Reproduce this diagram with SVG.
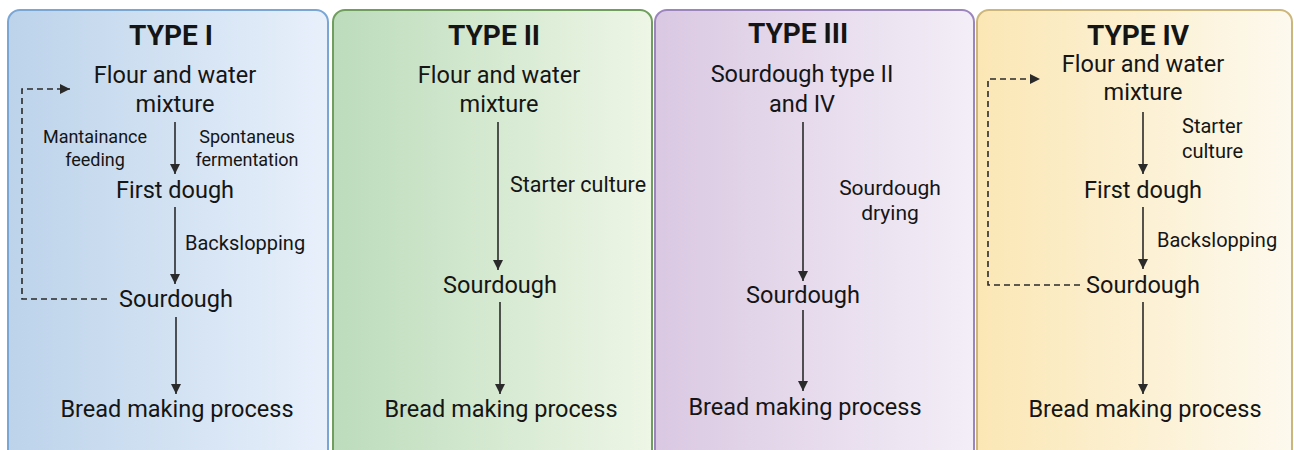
<svg xmlns="http://www.w3.org/2000/svg" width="1294" height="450" viewBox="0 0 1294 450">
<defs>
<linearGradient id="g1" x1="0" y1="0" x2="1" y2="0"><stop offset="0" stop-color="#bcd3ea"/><stop offset="1" stop-color="#e8f0fb"/></linearGradient>
<linearGradient id="g2" x1="0" y1="0" x2="1" y2="0"><stop offset="0" stop-color="#bcdcbc"/><stop offset="1" stop-color="#eef6e6"/></linearGradient>
<linearGradient id="g3" x1="0" y1="0" x2="1" y2="0"><stop offset="0" stop-color="#dac8e2"/><stop offset="1" stop-color="#f3eef7"/></linearGradient>
<linearGradient id="g4" x1="0" y1="0" x2="1" y2="0"><stop offset="0" stop-color="#fbe7b5"/><stop offset="1" stop-color="#fdf9ee"/></linearGradient>
<marker id="ah" viewBox="0 0 10 10" refX="10" refY="5" markerWidth="10" markerHeight="10" markerUnits="userSpaceOnUse" orient="auto">
<path d="M0,0 L10,5 L0,10 Z" fill="#2a2a2a"/>
</marker>
</defs>
<style>
text{font-family:Roboto,"Liberation Sans",sans-serif;fill:#151515;}
.t{font-size:28px;font-weight:bold;text-anchor:middle;}
.n{font-size:23.5px;text-anchor:middle;}
.l{font-size:20px;}
.lm{font-size:18px;text-anchor:middle;}
.a{stroke:#2a2a2a;stroke-width:1.6;fill:none;marker-end:url(#ah);}
.d{stroke:#2a2a2a;stroke-width:1.6;fill:none;stroke-dasharray:6 4;marker-end:url(#ah);}
.p{stroke-width:2;}
</style>
<g id="panel1">
<rect class="p" x="8" y="10" width="320" height="460" rx="12" fill="url(#g1)" stroke="#7aa6d6"/>
<text class="t" x="171" y="45">TYPE I</text>
<text class="n" x="175" y="83">Flour and water</text>
<text class="n" x="175" y="112">mixture</text>
<text class="lm" x="95" y="143">Mantainance</text>
<text class="lm" x="95" y="166">feeding</text>
<text class="lm" x="247" y="143">Spontaneus</text>
<text class="lm" x="247" y="166">fermentation</text>
<text class="n" x="175" y="198">First dough</text>
<text class="l" x="185" y="250">Backslopping</text>
<text class="n" x="176" y="307">Sourdough</text>
<text class="n" x="177" y="417">Bread making process</text>
</g>
<g id="panel2">
<rect class="p" x="333" y="10" width="319" height="460" rx="12" fill="url(#g2)" stroke="#6f9e5e"/>
<text class="t" x="494" y="45">TYPE II</text>
<text class="n" x="499" y="83">Flour and water</text>
<text class="n" x="499" y="112">mixture</text>
<text class="l" x="510" y="192" style="font-size:21.5px">Starter culture</text>
<text class="n" x="500" y="293">Sourdough</text>
<text class="n" x="501" y="417">Bread making process</text>
</g>
<g id="panel3">
<rect class="p" x="655" y="10" width="319" height="460" rx="12" fill="url(#g3)" stroke="#9c85bd"/>
<text class="t" x="798" y="43">TYPE III</text>
<text class="n" x="802" y="82">Sourdough type II</text>
<text class="n" x="802" y="112">and IV</text>
<text class="lm" x="890" y="195" style="font-size:21px">Sourdough</text>
<text class="lm" x="890" y="220" style="font-size:21px">drying</text>
<text class="n" x="803" y="303">Sourdough</text>
<text class="n" x="805" y="415">Bread making process</text>
</g>
<g id="panel4">
<rect class="p" x="977" y="10" width="315" height="460" rx="12" fill="url(#g4)" stroke="#cdb67a"/>
<text class="t" x="1138" y="45">TYPE IV</text>
<text class="n" x="1143" y="72">Flour and water</text>
<text class="n" x="1143" y="100">mixture</text>
<text class="l" x="1182" y="133">Starter</text>
<text class="l" x="1182" y="158">culture</text>
<text class="n" x="1143" y="198">First dough</text>
<text class="l" x="1157" y="247">Backslopping</text>
<text class="n" x="1143" y="293">Sourdough</text>
<text class="n" x="1145" y="417">Bread making process</text>
</g>
<g id="connectors">
<line class="a" x1="175" y1="122" x2="175" y2="174"/>
<line class="a" x1="175" y1="207" x2="175" y2="284"/>
<line class="a" x1="176" y1="317" x2="176" y2="394"/>
<path class="d" d="M107,299 H22 V89 H70"/>
<line class="a" x1="498" y1="122" x2="498" y2="270"/>
<line class="a" x1="500" y1="302" x2="500" y2="394"/>
<line class="a" x1="803" y1="122" x2="803" y2="281"/>
<line class="a" x1="803" y1="310" x2="803" y2="391"/>
<line class="a" x1="1143" y1="112" x2="1143" y2="174"/>
<line class="a" x1="1143" y1="207" x2="1143" y2="269"/>
<line class="a" x1="1143" y1="302" x2="1143" y2="394"/>
<path class="d" d="M1080,285 H988 V79 H1040"/>
</g>
</svg>
